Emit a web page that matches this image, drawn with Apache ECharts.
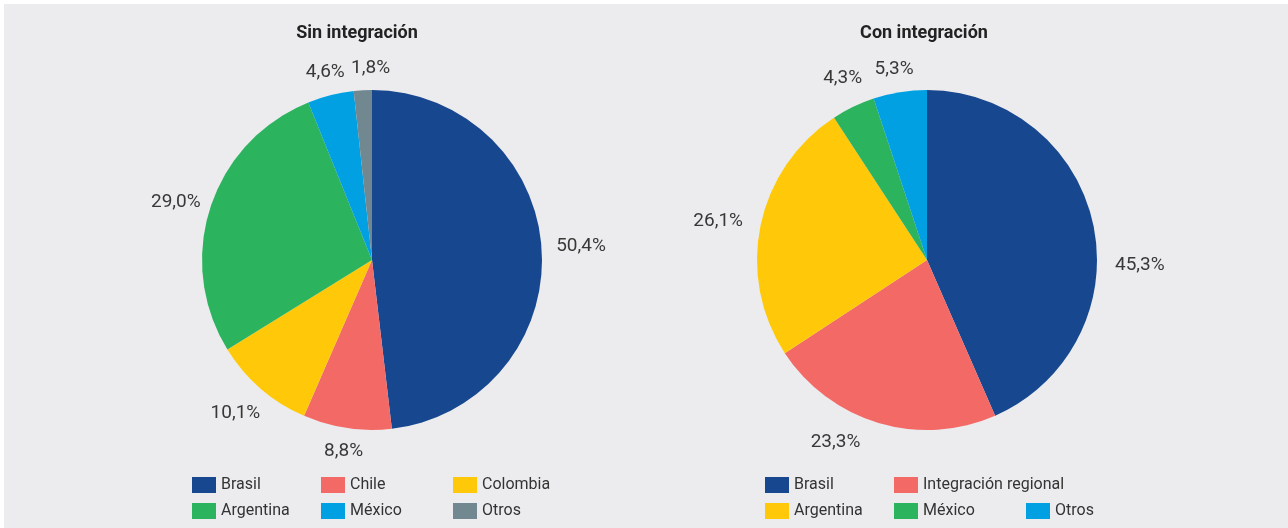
<!DOCTYPE html>
<html><head><meta charset="utf-8">
<script src="https://cdn.jsdelivr.net/npm/echarts@6/dist/echarts.min.js"></script>
<style>html,body{margin:0;padding:0;background:#ffffff;}#c{width:1288px;height:528px;}</style>
</head><body><div id="c"></div>
<script>
const sinTitle = 'Sin integración';
const conTitle = 'Con integración';
const sinCategories = ['Brasil', 'Chile', 'Colombia', 'Argentina', 'México', 'Otros'];
const sinValues = [50.4, 8.8, 10.1, 29.0, 4.6, 1.8];
const sinColors = ['#17478f', '#f36966', '#ffc90a', '#2cb35e', '#00a0e3', '#718891'];
const conCategories = ['Brasil', 'Integración regional', 'Argentina', 'México', 'Otros'];
const conValues = [45.3, 23.3, 26.1, 4.3, 5.3];
const conColors = ['#17478f', '#f36966', '#ffc90a', '#2cb35e', '#00a0e3'];

// small label nudges (px) relative to the library-computed outside label position
const sinLabelNudge = [[2, -2], [0, -1], [-2, -2], [2, 7], [1, 2], [9, 1]];
const conLabelNudge = [[9, 48], [-35, -8], [-5, 4], [2, -2], [-2, 1]];

const FONT = 'Roboto, "Liberation Sans", sans-serif';
const chart = echarts.init(document.getElementById('c'));

function fmt(v) { return v.toFixed(1).replace('.', ',') + '%'; }

function makeLabelLayout(nudge) {
  return function (p) {
    const pts = p.labelLinePoints;
    if (!pts) return {};
    let dx = pts[1][0] - pts[0][0], dy = pts[1][1] - pts[0][1];
    const L = Math.hypot(dx, dy) || 1; dx /= L; dy /= L;
    const w = p.labelRect.width, h = p.labelRect.height;
    const d = 12 + w / 2 * Math.abs(dx) + h / 2 * Math.abs(dy);
    const n = nudge[p.dataIndex] || [0, 0];
    return { x: pts[0][0] + dx * d + n[0], y: pts[0][1] + dy * d + n[1], align: 'center', verticalAlign: 'middle' };
  };
}

function pieSeries(cats, vals, cols, cx, nudge) {
  return {
    type: 'pie', center: [cx, 260], radius: 170, startAngle: 90, clockwise: true,
    avoidLabelOverlap: false, animation: false, silent: true,
    data: cats.map((n, i) => ({ name: n, value: vals[i], itemStyle: { color: cols[i] } })),
    label: { show: true, position: 'outside', formatter: p => fmt(p.value),
      fontFamily: FONT, fontSize: 19, color: '#383838' },
    labelLine: { show: true, length: 10, length2: 0, lineStyle: { width: 0, opacity: 0 } },
    labelLayout: makeLabelLayout(nudge)
  };
}

function legendCol(names, cats, cols, left, top) {
  return {
    orient: 'vertical', left: left, top: top, itemWidth: 24, itemHeight: 16, itemGap: 10,
    icon: 'rect', selectedMode: false, padding: 0,
    textStyle: { fontFamily: FONT, fontSize: 16, color: '#333333', lineHeight: 16 },
    data: names.map(n => ({ name: n, itemStyle: { color: cols[cats.indexOf(n)] } }))
  };
}

chart.setOption({
  backgroundColor: '#ffffff',
  graphic: [
    { type: 'rect', z: -10, shape: { x: 4, y: 4, width: 1284, height: 524 }, style: { fill: '#ececee' } },
    { type: 'text', x: 357, y: 33, style: { text: sinTitle, font: 'bold 18px ' + FONT, fill: '#222222', align: 'center', verticalAlign: 'middle' } },
    { type: 'text', x: 924, y: 33, style: { text: conTitle, font: 'bold 18px ' + FONT, fill: '#222222', align: 'center', verticalAlign: 'middle' } }
  ],
  legend: [
    legendCol(['Brasil', 'Argentina'], sinCategories, sinColors, 192, 477),
    legendCol(['Chile', 'México'], sinCategories, sinColors, 321, 477),
    legendCol(['Colombia', 'Otros'], sinCategories, sinColors, 453, 477),
    legendCol(['Brasil', 'Argentina'], conCategories, conColors, 765, 477),
    legendCol(['Integración regional', 'México'], conCategories, conColors, 894, 477),
    legendCol(['Otros'], conCategories, conColors, 1026, 503)
  ],
  series: [
    pieSeries(sinCategories, sinValues, sinColors, 372, sinLabelNudge),
    pieSeries(conCategories, conValues, conColors, 927, conLabelNudge)
  ]
});
</script></body></html>
